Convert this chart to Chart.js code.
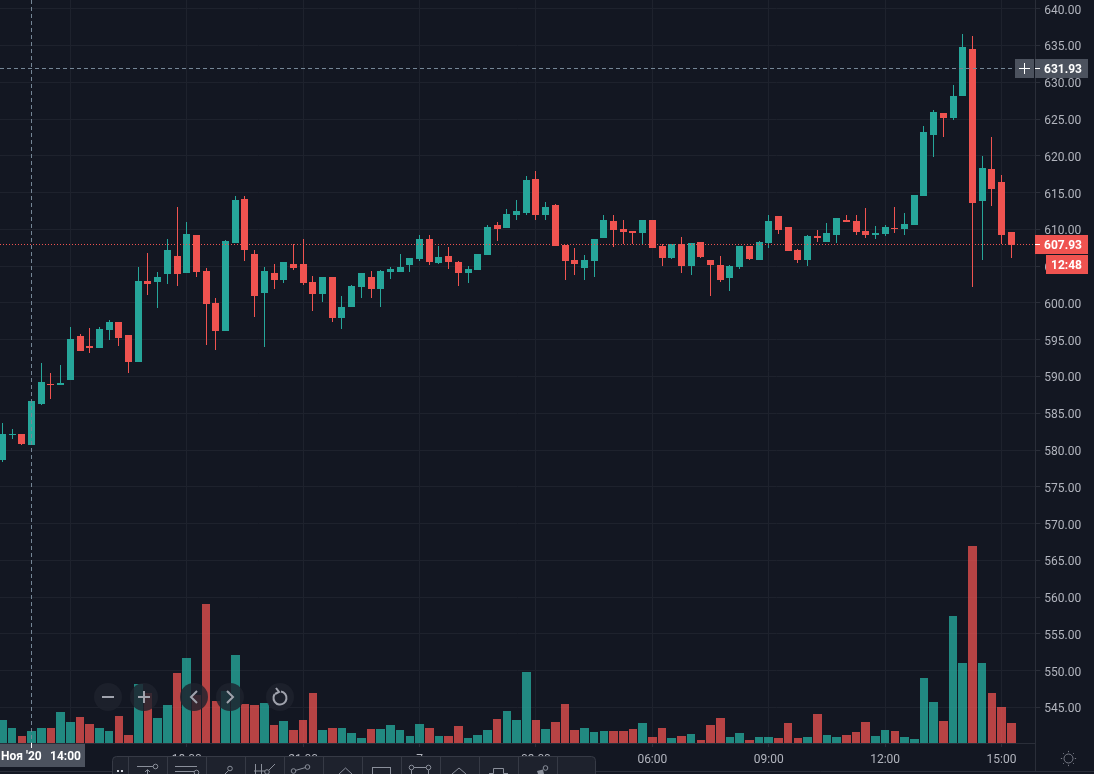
<!DOCTYPE html>
<html>
<head>
<meta charset="utf-8">
<style>
html,body{margin:0;padding:0;background:#131722;overflow:hidden}
canvas{display:block}
</style>
<script src="https://cdn.jsdelivr.net/npm/chart.js@4"></script>
</head>
<body>
<canvas id="c" width="1094" height="774"></canvas>
<script>
const opens=[578.7,582.0,582.2,580.7,586.3,589.0,588.85,589.5,595.5,594.1,593.9,596.3,597.4,595.6,592.0,603.0,602.8,603.9,606.4,604.05,609.2,604.3,600.0,596.2,608.1,614.1,606.6,601.3,604.05,603.1,605.3,605.3,602.8,601.2,603.5,
598.0,599.4,602.2,603.55,601.9,604.2,604.2,605.2,606.0,608.7,605.45,606.4,605.6,604.1,604.5,606.5,610.6,610.2,611.9,612.2,616.8,611.9,613.3,607.9,605.9,604.8,605.7,608.8,611.1,610.05,609.8,609.5,611.3,607.75,606.1,
608.0,605.05,608.3,605.85,605.2,603.4,604.9,607.75,605.85,608.2,611.8,610.35,607.2,605.85,609.1,608.3,609.25,611.3,611.15,609.8,609.25,609.4,610.2,610.05,610.6,614.55,622.85,625.8,625.15,628.1,634.5,613.85,618.2,616.45,609.65];
const highs=[583.7,582.9,582.2,586.7,591.8,590.5,591.6,596.7,595.8,596.6,596.7,597.7,597.4,595.6,604.9,606.8,604.2,608.7,613.0,611.0,609.2,604.7,600.7,608.5,614.5,614.6,607.2,604.9,605.3,605.5,608.0,608.7,603.6,603.5,603.5,
601.0,602.5,604.1,604.4,604.5,604.9,606.7,606.1,609.2,609.2,607.7,607.6,605.7,605.0,606.7,610.6,611.0,612.75,614.0,617.3,617.9,613.7,613.4,607.9,607.5,606.5,608.7,611.9,611.9,611.3,609.8,611.3,611.3,608.0,608.0,
609.0,608.2,608.3,605.85,606.4,605.2,607.75,607.75,608.45,612.0,611.8,610.35,607.35,609.25,609.95,610.9,611.6,612.0,612.0,612.9,610.5,610.6,613.05,612.25,614.7,624.05,626.2,625.8,629.6,636.55,636.25,620.0,622.55,617.4,609.65];
const lows=[578.4,581.5,580.7,580.7,586.1,586.9,588.85,589.5,593.5,593.2,593.9,595.0,594.1,590.5,592.0,601.1,599.3,602.6,602.3,604.05,603.5,594.3,593.6,596.2,608.1,605.7,598.1,594.0,601.9,602.7,604.45,602.4,598.9,600.1,597.4,
596.4,599.4,600.6,600.7,599.4,603.3,604.2,604.2,605.7,605.2,605.3,604.6,602.3,602.75,604.5,606.5,608.4,610.2,611.3,611.9,611.3,611.3,607.75,603.15,603.8,603.15,603.55,608.8,607.6,608.0,608.0,607.9,607.5,605.05,606.0,
604.1,603.8,606.15,601.0,602.9,601.65,604.6,605.85,605.85,607.5,609.4,607.1,605.45,605.05,608.3,608.3,608.2,611.0,609.25,608.85,608.7,609.1,609.5,609.25,610.6,614.55,619.85,622.55,624.85,628.1,602.2,605.85,613.2,608.0,606.1];
const closes=[582.2,582.2,580.8,586.7,589.25,588.85,589.1,595.1,593.5,593.9,596.45,597.4,595.2,592.0,603.0,602.6,603.5,607.2,603.9,609.3,604.2,599.8,596.2,608.4,614.0,607.2,600.9,604.3,603.1,605.5,604.7,602.7,601.2,603.5,597.9,
599.5,602.3,604.1,601.9,604.4,604.6,604.9,606.1,608.7,605.6,606.3,605.6,604.1,604.6,606.7,610.3,610.05,612.1,612.5,616.7,611.9,613.0,607.75,605.7,605.3,605.9,608.7,611.3,609.9,609.6,609.5,611.3,607.5,606.1,608.0,
605.05,608.2,606.3,605.2,603.15,605.05,607.75,606.0,608.3,611.15,609.95,607.1,605.85,609.1,608.85,609.5,611.6,611.0,609.65,609.25,609.5,610.35,610.05,610.75,614.7,623.25,625.95,625.15,628.1,634.8,613.6,618.35,615.5,609.25,607.93];
const volumes=[23.3,15.3,7.3,12.3,15.3,15.3,31.3,21.3,26.3,19.3,15.3,12.3,27.3,8.3,59.3,50.3,25.3,38.3,70.3,85.3,48.3,139.3,42.3,52.3,88.3,39.3,38.3,40.3,18.3,22.3,13.3,23.3,50.3,13.3,15.3,
15.3,10.3,5.3,14.3,14.3,18.3,13.3,7.3,19.3,15.3,7.3,7.3,17.3,5.3,8.3,13.3,24.3,32.3,23.3,71.3,23.3,14.3,21.3,39.3,13.3,15.3,11.3,12.3,12.3,12.3,14.3,20.3,6.3,15.3,5.3,
7,9,3,18,25,6,10,3,6,6,5,20,5,6,29,8,6,8,11,21,7,13,12,6,4,65,41,22,127,80,197,80,50,36,20];
const timeTickIdx=[7,19,31,43,55,67,79,91,103];
const timeTickLabels=["15:00","18:00","21:00","7","03:00","06:00","09:00","12:00","15:00"];
const priceTicks=[545,550,555,560,565,570,575,580,585,590,595,600,605,610,615,620,625,630,635,640];
const crossIndex=3, crossPrice=631.93, lastPrice=607.93;
const crossTimeLabel=["Ноя '20","14:00"], countdown="12:48";

const UP='#26a69a', DOWN='#ef5350', UPV='rgba(38,166,154,0.8)', DOWNV='rgba(239,83,80,0.75)';
const GRID='#1e222d', LINE='#2a2e39', TXT='#b2b5be', FONT='Roboto, sans-serif';
const idx=opens.map((_,i)=>i);
const isUp=i=>closes[i]>=opens[i];
const colorBy=(a,b)=>idx.map(i=>isUp(i)?a:b);

const snapPlugin={id:'snap',beforeDatasetsDraw(chart){
  chart.data.datasets.forEach((ds,di)=>{
    chart.getDatasetMeta(di).data.forEach(el=>{
      const x=el.x;
      if(ds.label==='Volume'){
        const l=Math.round(x-4.3), r=Math.round(x+4.3);
        el.x=(l+r)/2; el.width=r-l; el.y=Math.round(el.y); el.base=Math.round(el.base);
      }else{
        el.x=Math.floor(x)+0.5;
        let a=Math.round(el.y), b=Math.round(el.base);
        if(a===b) b=a+1;
        el.y=a; el.base=b;
      }
    });
  });
}};

function roundRect(ctx,x,y,w,h,r){ctx.beginPath();ctx.roundRect(x,y,w,h,r);}
function seg(ctx,...p){ctx.beginPath();ctx.moveTo(p[0],p[1]);for(let i=2;i<p.length;i+=2)ctx.lineTo(p[i],p[i+1]);ctx.stroke();}
function circ(ctx,x,y,r){ctx.beginPath();ctx.arc(x,y,r,0,Math.PI*2);ctx.stroke();}

const overlayPlugin={id:'overlay',afterDraw(chart){
  const ctx=chart.ctx, a=chart.chartArea, py=chart.scales.price, xs=chart.scales.x;
  const right=a.right, bottom=a.bottom;
  ctx.save();
  // panel lines
  ctx.strokeStyle=LINE;ctx.lineWidth=1;
  seg(ctx,Math.round(right)+0.5,bottom,Math.round(right)+0.5,771.5);
  seg(ctx,0,771.5,1094,771.5);
  // last price line
  const yLast=Math.floor(py.getPixelForValue(lastPrice))+0.5;
  ctx.strokeStyle=DOWN;ctx.setLineDash([1,2]);
  seg(ctx,0,yLast,right,yLast);
  // crosshair
  const yCross=Math.floor(py.getPixelForValue(crossPrice))+0.5;
  const xCross=Math.floor(xs.getPixelForValue(crossIndex))+0.5;
  ctx.strokeStyle='#758696';ctx.setLineDash([4,3]);
  seg(ctx,0,yCross,right,yCross);
  seg(ctx,xCross,0,xCross,bottom);
  ctx.setLineDash([]);
  // buttons
  const btnY=697;
  [[108,'minus'],[144,'plus'],[194,'left'],[230,'right'],[280,'reset']].forEach(([bx,k])=>{
    ctx.fillStyle='rgba(30,34,45,0.82)';
    ctx.beginPath();ctx.arc(bx,btnY,14,0,Math.PI*2);ctx.fill();
    ctx.strokeStyle='#a0a3ad';ctx.lineWidth=2;
    if(k==='minus')seg(ctx,bx-6,btnY,bx+6,btnY);
    if(k==='plus'){seg(ctx,bx-6,btnY,bx+6,btnY);seg(ctx,bx,btnY-6,bx,btnY+6);}
    if(k==='left')seg(ctx,bx+3,btnY-6,bx-3,btnY,bx+3,btnY+6);
    if(k==='right')seg(ctx,bx-3,btnY-6,bx+3,btnY,bx-3,btnY+6);
    if(k==='reset'){
      ctx.beginPath();ctx.arc(bx,btnY+1,6.5,-Math.PI*0.45,Math.PI*1.2);ctx.stroke();
      seg(ctx,bx-4,btnY-9,bx-1,btnY-5,bx-5,btnY-3);
    }
  });
  ctx.lineWidth=1;
  // crosshair time label
  ctx.fillStyle='#4c525e';ctx.fillRect(0,744,85,23);
  ctx.fillStyle='#ffffff';ctx.fillRect(Math.floor(xCross),743,1,5);
  ctx.font='bold 12px '+FONT;ctx.textBaseline='middle';ctx.textAlign='left';
  ctx.fillStyle='#ffffff';
  ctx.fillText(crossTimeLabel[0],1,757);
  ctx.fillText(crossTimeLabel[1],50,757);
  // toolbar
  ctx.fillStyle='#1e222d';ctx.strokeStyle='#363a45';
  roundRect(ctx,112.5,756.5,483,30,4);ctx.fill();ctx.stroke();
  [127.7,166.7,205.7,244.6,283.6,322.6,361.6,400.6,439.6,478.6,517.6,556.6].forEach(s=>{
    const sx=Math.round(s)+0.5;seg(ctx,sx,757,sx,774);
  });
  ctx.fillStyle='#d1d4dc';ctx.fillRect(117,770,2,2);ctx.fillRect(121,770,2,2);
  ctx.strokeStyle='#8a8f9a';ctx.lineWidth=1;
  seg(ctx,137,766.5,153,766.5);circ(ctx,155.5,766.5,2.3);
  seg(ctx,147.5,770,147.5,774);seg(ctx,145,772,147.5,769.5,150,772);
  seg(ctx,175,766.5,197,766.5);seg(ctx,175,771.5,194,771.5);circ(ctx,196.5,772.5,2.3);
  circ(ctx,230,768.5,2.3);seg(ctx,228.5,770.5,224,775);
  seg(ctx,255.5,764,255.5,774);seg(ctx,261.5,764,261.5,774);seg(ctx,254,771,265,771);circ(ctx,267,772,2.3);seg(ctx,269,770,275,764);
  circ(ctx,293.5,771,2.3);circ(ctx,307.5,767,2.3);seg(ctx,296,770.3,305,767.7);
  seg(ctx,339,774,345.5,768,352,774);
  ctx.strokeRect(372.5,767.5,18,8);
  circ(ctx,411.5,767.5,2.3);circ(ctx,428.5,767.5,2.3);seg(ctx,414,767.5,426,767.5);seg(ctx,411.5,770,411.5,774);seg(ctx,428.5,770,428.5,774);
  seg(ctx,452,774,459,768,466,774);
  seg(ctx,489,773.5,493.5,773.5,493.5,768.5,503.5,768.5,503.5,773.5,508,773.5);
  circ(ctx,545.5,768,2.3);
  ctx.fillStyle='#8a8f9a';ctx.beginPath();ctx.moveTo(537,771);ctx.lineTo(543,769.5);ctx.lineTo(544,774);ctx.lineTo(538,774);ctx.fill();
  // sun icon
  ctx.strokeStyle='#787b86';
  circ(ctx,1068.5,758.5,4.5);
  for(let k=0;k<8;k++){const t=k*Math.PI/4;seg(ctx,1068.5+6.3*Math.cos(t),758.5+6.3*Math.sin(t),1068.5+7.6*Math.cos(t),758.5+7.6*Math.sin(t));}
  // price labels
  ctx.font='bold 12px '+FONT;ctx.textBaseline='middle';ctx.textAlign='left';
  const rx=Math.round(right);
  ctx.fillStyle='#4c525e';ctx.fillRect(rx,59,53,19);
  ctx.fillStyle='#4c525e';ctx.fillRect(1015,59,19,19);
  ctx.strokeStyle='#ffffff';seg(ctx,1019,68.5,1030,68.5);seg(ctx,1024.5,63,1024.5,74);
  ctx.fillStyle='#ffffff';ctx.fillRect(rx,yCross-0.5,5,1);
  ctx.fillText(crossPrice.toFixed(2),1044,70);
  ctx.fillStyle=DOWN;ctx.fillRect(rx,235,53,19);ctx.fillRect(1046,255,42,19);
  ctx.fillStyle='#ffffff';ctx.fillRect(rx,yLast-0.5,5,1);
  ctx.fillText(lastPrice.toFixed(2),1044,246);
  ctx.fillText(countdown,1051,266);
  ctx.restore();
}};

new Chart(document.getElementById('c'),{
  data:{datasets:[
    {type:'bar',label:'Volume',yAxisID:'volume',order:3,grouped:false,inflateAmount:0,barPercentage:1,categoryPercentage:1,maxBarThickness:9,
     data:idx.map(i=>({x:i,y:volumes[i]})),backgroundColor:colorBy(UPV,DOWNV)},
    {type:'bar',label:'Wick',yAxisID:'price',order:2,grouped:false,inflateAmount:0,barPercentage:1,categoryPercentage:1,maxBarThickness:1,
     data:idx.map(i=>({x:i,y:[lows[i],highs[i]]})),backgroundColor:colorBy(UP,DOWN)},
    {type:'bar',label:'Body',yAxisID:'price',order:1,grouped:false,inflateAmount:0,barPercentage:1,categoryPercentage:1,maxBarThickness:7,
     data:idx.map(i=>({x:i,y:[closes[i],opens[i]]})),backgroundColor:colorBy(UP,DOWN)}
  ]},
  options:{
    responsive:false,devicePixelRatio:1,animation:false,
    layout:{padding:0},
    plugins:{legend:{display:false},tooltip:{enabled:false}},
    events:[],
    scales:{
      x:{type:'linear',position:'bottom',min:-0.2474,max:106.48,offset:false,
        afterBuildTicks(s){s.ticks=timeTickIdx.map(v=>({value:v}));},
        afterFit(s){s.height=31;s.paddingLeft=0;s.paddingRight=0;},
        grid:{offset:false,color:GRID,tickColor:LINE,tickLength:4},
        border:{display:true,color:LINE},
        ticks:{autoSkip:false,maxRotation:0,padding:6,color:TXT,font:{family:FONT,size:12},
          callback:v=>timeTickLabels[timeTickIdx.indexOf(v)]}
      },
      price:{type:'linear',position:'right',min:540.17,max:641.18,
        afterBuildTicks(s){s.ticks=priceTicks.map(v=>({value:v}));},
        afterFit(s){s.width=58.7;s.paddingTop=0;s.paddingBottom=0;},
        grid:{color:GRID,tickColor:LINE,tickLength:5},
        border:{display:true,color:LINE},
        ticks:{autoSkip:false,padding:4,labelOffset:2,color:TXT,font:{family:FONT,size:12},callback:v=>v.toFixed(2)}
      },
      volume:{type:'linear',display:false,min:0,max:743}
    }
  },
  plugins:[snapPlugin,overlayPlugin]
});
</script>
</body>
</html>
